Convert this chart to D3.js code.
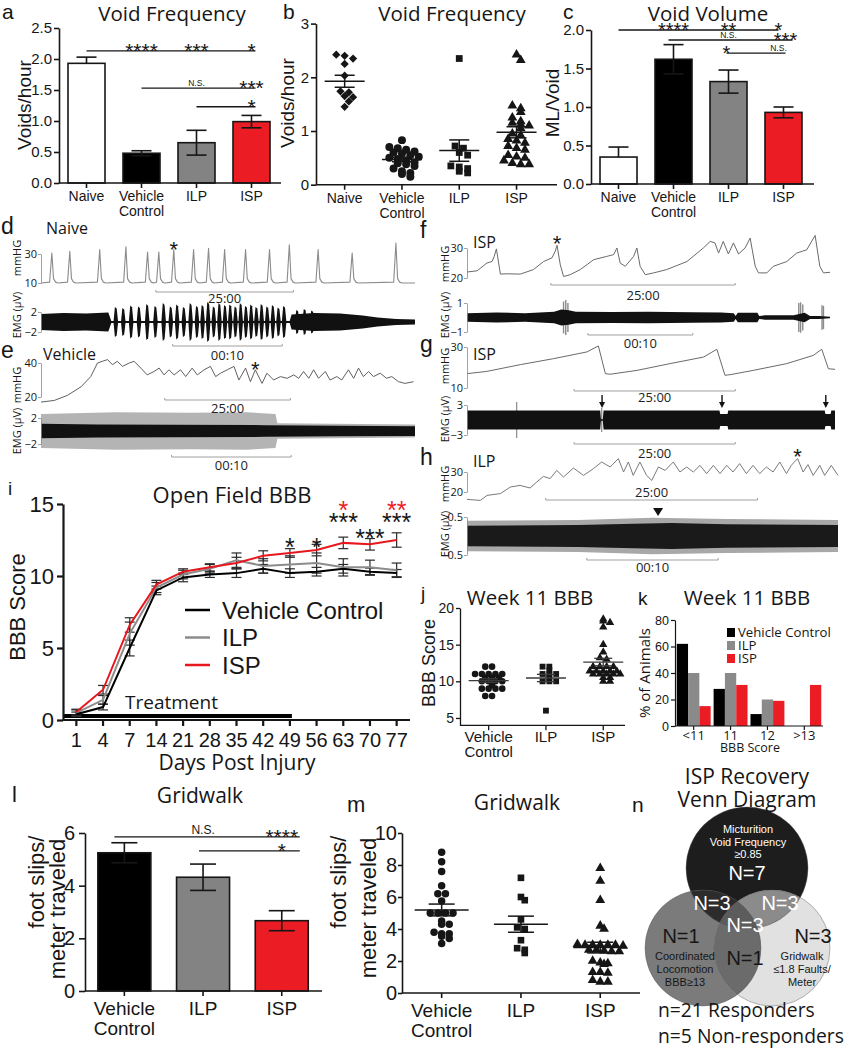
<!DOCTYPE html>
<html><head><meta charset="utf-8">
<script src="https://cdn.jsdelivr.net/npm/d3@7/dist/d3.min.js"></script>
<style>html,body{margin:0;padding:0;background:#fff}svg{display:block}</style>
</head><body>
<svg id="fig" width="847" height="1050" xmlns="http://www.w3.org/2000/svg"></svg>
<script>
// ======================= DATA =======================
// a / c : group means and SEM
const groups4 = ["Naive", "Vehicle Control", "ILP", "ISP"];
const voidFreqMean = [1.93, 0.48, 0.65, 0.99];
const voidFreqSem  = [0.10, 0.04, 0.20, 0.10];
const voidVolMean  = [0.35, 1.62, 1.33, 0.93];
const voidVolSem   = [0.13, 0.19, 0.15, 0.07];
// b : individual animals (voids/hour)
const vfNaive   = [2.42, 2.40, 2.35, 2.25, 2.03, 1.74, 1.72, 1.65, 1.63, 1.55, 1.45];
const vfVehicle = [0.83, 0.70, 0.68, 0.65, 0.62, 0.60, 0.58, 0.55, 0.52, 0.50, 0.48, 0.45, 0.42, 0.40, 0.38, 0.35, 0.30, 0.25, 0.22, 0.20, 0.15];
const vfILP     = [2.35, 0.72, 0.68, 0.60, 0.55, 0.35, 0.33, 0.30, 0.25, 0.22];
const vfISP     = [2.42, 2.32, 1.47, 1.42, 1.35, 1.25, 1.18, 1.15, 1.12, 1.10, 1.05, 0.95, 0.92, 0.85, 0.82, 0.78, 0.72, 0.68, 0.65, 0.55, 0.52, 0.50, 0.45, 0.40, 0.38, 0.38];
// significance annotations (bar panels)
const sigVoidFreq = [
  {from:"Naive", to:"ISP", v:2.13, dx1:4, labels:[["Vehicle Control","****"],["ILP","***"],["ISP","*"]]},
  {from:"Vehicle Control", to:"ISP", v:1.53, dx1:4, labels:[["ILP","N.S."],["ISP","***"]]},
  {from:"ILP", to:"ISP", v:1.23, dx1:4, labels:[["ISP","*"]]}
];
const sigVoidVol = [
  {from:"Naive", to:"ISP", v:2.0, dx1:-5, labels:[["Vehicle Control","****"],["ILP","**"],["ISP","*",-5]]},
  {from:"Vehicle Control", to:"ISP", v:1.87, dx0:-5, dx1:9, labels:[["ILP","N.S."],["ISP","***",2]]},
  {from:"ILP", to:"ISP", v:1.70, dx0:-2, dx1:2, labels:[["ILP","*",-2],["ISP","N.S.",-5]]}
];
// d : naive cystometry (mmHg) - baseline and spikes (time 0-100)
const naiveBase = 10;
const naiveSpikeT    = [2.9, 7.7, 15.7, 22.7, 28.5, 31.5, 35.5, 40.8, 44.8, 49.1, 54.7, 61.1, 66.4, 74.1, 83.2, 94.9];
const naiveSpikePeak = [30.7, 31.8, 33, 35, 31.4, 31.4, 33, 33, 34, 33, 33, 33, 36.4, 33, 30.7, 37.6];
const emgNaiveTonic  = [[0,1.6],[6,1.8],[12,1.7],[18,1.9],[18.8,0.2],[66.5,0.2],[67,1.5],[73,1.8],[80,1.7],[86,1.3],[90,0.9],[95,0.6],[100,0.5]];
const emgNaiveBursts = [[20,3.0],[22,2.8],[24.1,3.3],[26.2,3.1],[28.4,3.6],[30.6,3.2],[32.8,3.8],[34.7,3.1],[36.4,3.5],[38.2,3.0],[40,3.8],[41.7,3.2],[43.2,3.4],[44.7,4.0],[46.2,3.1],[47.7,3.8],[49.2,3.4],[50.6,3.5],[52,3.1],[53.4,3.8],[54.8,3.2],[56.2,3.5],[57.6,3.0],[59,3.6],[60.5,3.1],[62,3.4],[63.5,2.9],[65,3.2],[68.5,2.4],[70.5,2.6],[72.5,2.3]];
// e : vehicle cystometry
const vehiclePressure = [[0,17],[3.6,18],[7.1,21],[10.7,26],[13.3,32],[15.1,40],[16.4,41],[17.8,42],[19.1,39],[20.4,41],[21.8,38],[23.6,40],[24.9,41],[26.7,37],[28.4,33],[30.2,35],[31.6,37],[32.9,33],[34.2,36],[35.6,33],[37.3,36],[38.7,32],[40.4,37],[41.8,33],[43.6,36],[45.3,38],[46.7,32],[48,34],[49.8,36],[51.6,38],[52.9,30],[54.7,37],[56,29],[57.3,36],[59.1,28],[60.4,34],[62.2,30],[64,32],[65.8,31],[67.6,33],[68.9,31],[70.2,35],[71.6,31],[72.9,36],[74.2,31],[76,35],[77.3,30],[79.1,32],[80.4,30],[82.2,36],[83.6,31],[84.9,37],[86.2,32],[87.6,35],[88.9,32],[90.7,34],[92.4,31],[93.8,32],[95.6,29],[97.3,28],[99.6,29]];
const emgVehicleOuter = [[0,2.6],[20,2.9],[40,2.8],[55,2.9],[62.7,2.6],[63.2,1.2],[100,1.0]];
const emgVehicleCore  = [[0,1.1],[15,1.0],[35,0.95],[60,0.9],[80,0.8],[100,0.75]];
// f : ISP cystometry
const ispPressureF = [[0,22],[2.8,22.4],[5.5,25],[6.9,25.5],[7.5,27.2],[8.1,29.7],[9.2,21.3],[11,21.4],[14.7,21.3],[18.3,22.8],[21.1,25.5],[23.4,26.7],[24.3,28.9],[24.8,30.9],[25.7,24.4],[26.6,20.5],[28.4,21.1],[31.2,22.8],[34.9,26.1],[38.5,27.2],[40.4,27.8],[41.3,30],[42.2,25],[43.6,23.9],[45.9,27.2],[46.8,30],[47.7,23.9],[49.1,21.1],[51.4,21.7],[55,22.8],[60.6,25.5],[65.1,30],[67,32.2],[68.3,31.7],[69.3,28.3],[70.6,32.2],[72,28],[73.4,31.7],[74.8,28],[76.6,30],[78,33.3],[79.4,23.9],[80.3,21.7],[82.6,21.7],[84.4,23.9],[88.1,25.5],[90.8,28.3],[93.6,29.4],[95.9,34.2],[97.2,23.9],[98.2,21.7],[100,21.9]];
const emgIspFCore = [[0,0.3],[8,0.35],[16,0.3],[24,0.4],[26,0.55],[28,0.5],[30,0.4],[40,0.38],[50,0.4],[62,0.36],[70,0.34],[73.5,0.3],[74,0.1],[74.6,0.33],[80,0.33],[80.5,0.1],[82,0.15],[88,0.15],[90,0.15],[93,0.33],[94.5,0.1],[97,0.1],[100,0.06]];
const emgIspFSpikes = [[26.6,1.1],[27.2,1.2],[27.8,1.0],[91.4,1.0],[91.9,1.05],[92.5,0.9],[97.8,0.85],[98.2,0.8]];
// g : ISP cystometry (second animal)
const ispPressureG = [[0,17],[5.4,18.1],[14.5,21.4],[23.5,24.3],[32.6,27.6],[35.7,30.5],[37.6,17],[38.9,16.7],[46.2,18.6],[55.2,21.9],[64.3,25.1],[67.9,28.9],[70.1,16.2],[71.5,16.5],[77.8,18.6],[86.9,21.9],[94.1,25.9],[96.4,28.9],[98.2,19.4],[100,19.1]];
const emgIspGCore = [[0,1.9],[36.2,1.9],[36.4,0.15],[36.9,0.15],[37.1,1.9],[68.6,1.9],[68.8,1.2],[70.8,1.2],[71,1.9],[97.2,1.9],[97.4,1.2],[98.8,1.2],[99,1.9],[100,1.9]];
const emgIspGSpikes = [[13.5,3.6],[36.6,2.4]];
const voidArrowsG = [36.7, 69.3, 97.5];
// h : ILP cystometry
const ilpPressureH = [[0,16.3],[3.6,15.8],[5.4,18.3],[9,19.2],[11.7,22.5],[14.3,23.3],[17,22],[18.8,25],[20.6,27.8],[22.4,26.7],[24.2,30.8],[26,27.5],[28.7,32],[31.4,28.3],[34.1,31.7],[36.3,35],[38.6,32.5],[40.8,36.7],[42.2,30],[43.5,35],[44.8,28.3],[46.6,35],[48.4,28.3],[49.8,25.8],[51.6,32.5],[53.4,30.8],[55.6,35],[57.4,30],[59.2,32.5],[61,30],[62.8,33.3],[64.6,29.2],[66.4,33.3],[68.2,29.2],[70,33.3],[71.7,30],[73.5,34.2],[75.3,29.2],[77.1,33.3],[78.9,29.2],[80.7,32.5],[82.5,30],[84.3,35],[86.1,29.2],[87.4,33.3],[89.1,36.7],[90.6,30],[91.9,33.7],[93.3,28.3],[95.1,33.3],[96.4,28.3],[98.2,33.3],[100,28.3]];
const emgIlpOuter = [[0,0.4],[30,0.42],[50,0.48],[70,0.45],[100,0.42]];
const emgIlpCore  = [[0,0.27],[30,0.29],[45,0.32],[55,0.34],[70,0.31],[100,0.29]];
const ilpMarkerT = 51.5;
// i : open field BBB
const days = [1, 4, 7, 14, 21, 28, 35, 42, 49, 56, 63, 70, 77];
const bbbVehicle    = [0.4, 0.9, 5.0, 9.0, 9.9, 10.1, 10.2, 10.5, 10.2, 10.3, 10.5, 10.3, 10.2];
const bbbVehicleSem = [0.15, 0.2, 0.55, 0.3, 0.3, 0.2, 0.3, 0.3, 0.3, 0.3, 0.3, 0.25, 0.25];
const bbbILP        = [0.5, 1.4, 6.0, 9.2, 10.1, 10.5, 11.1, 10.7, 10.8, 10.9, 10.6, 10.6, 10.4];
const bbbILPSem     = [0.2, 0.3, 0.8, 0.35, 0.3, 0.3, 0.5, 0.5, 0.6, 0.7, 0.6, 0.5, 0.5];
const bbbISP        = [0.55, 2.1, 6.6, 9.4, 10.3, 10.6, 10.9, 11.4, 11.6, 11.8, 12.3, 12.2, 12.5];
const bbbISPSem     = [0.2, 0.3, 0.5, 0.3, 0.2, 0.25, 0.4, 0.35, 0.3, 0.4, 0.4, 0.4, 0.5];
const treatmentDays = [1, 49];
const sigBBB = [{day:49,v:12.4,s:"*",red:false},{day:56,v:12.4,s:"*",red:false},{day:63,v:14.1,s:"***",red:false},{day:63,v:15.0,s:"*",red:true},{day:70,v:13.05,s:"***",red:false},{day:77,v:14.1,s:"***",red:false},{day:77,v:15.0,s:"**",red:true}];
// j : week 11 BBB, individual animals
const groups3 = ["Vehicle Control", "ILP", "ISP"];
const w11Vehicle = [12, 12, 11, 11, 11, 11, 11, 10.5, 10.5, 10.5, 10, 10, 10, 10, 9.5, 9, 9, 9, 9, 8, 8];
const w11ILP     = [12, 12, 11.5, 11, 11, 11, 10.5, 10, 10, 10, 6];
const w11ISP     = [18.5, 18.2, 18, 17.4, 15, 14, 13.2, 13, 12, 12, 12, 12, 11.4, 11.4, 11.4, 11.4, 11.4, 11, 11, 11, 11, 11, 10.5, 10.5, 10, 10];
// k : distribution (% of animals)
const kBins = ["<11", "11", "12", ">13"];
const kVehicle = [62, 28, 9, 0];
const kILP     = [40, 40, 20, 0];
const kISP     = [15, 31, 19, 31];
// l / m : gridwalk
const gridMean = [5.25, 4.32, 2.67];
const gridSem  = [0.38, 0.50, 0.38];
const sigGrid = [
  {from:"Vehicle Control", to:"ISP", v:5.85, dx0:-10, dx1:18, labels:[["ILP","N.S."],["ISP","****"]]},
  {from:"ILP", to:"ISP", v:5.32, dx0:-4, dx1:18, labels:[["ISP","*"]]}
];
const gwVehicle = [8.8, 8.2, 7.6, 6.7, 6.2, 6.2, 5.75, 5.0, 5.0, 5.0, 5.0, 4.5, 4.3, 4.3, 3.8, 3.7, 3.7, 3.55, 3.4, 3.1];
const gwILP     = [7.2, 6.0, 5.8, 4.6, 4.1, 4.0, 3.3, 2.8, 2.7, 2.5];
const gwISP     = [7.8, 7.0, 5.8, 4.2, 4.0, 3.0, 3.0, 2.95, 3.05, 3.0, 3.0, 3.0, 2.7, 2.7, 2.65, 2.6, 2.6, 2.0, 1.9, 1.85, 1.8, 1.3, 1.3, 1.25, 0.8, 0.7, 0.7];
// n : Venn counts
const vennCounts = {V:7, B:1, G:3, VB:3, VG:3, BG:1, VBG:3};
const responders = 21, nonResponders = 5;

// ======================= HELPERS =======================
const svg = d3.select("#fig");
svg.append("rect").attr("width", 847).attr("height", 1050).attr("fill", "#fff");
const defs = svg.append("defs");
const AR = "'Liberation Sans', Arial, Helvetica, sans-serif";
const OS = "'Open Sans', 'DejaVu Sans', sans-serif";
const INK = "#161616", RED = "#ec1c24", GRAY = "#838383";
const fills = {"Naive":"#ffffff", "Vehicle Control":"#000000", "ILP":GRAY, "ISP":RED};
const labelLines = {"Vehicle Control":["Vehicle", "Control"]};

function T(g, x, y, s, o = {}) {
  const t = g.append("text").attr("x", x).attr("y", y).text(s)
    .attr("font-family", o.ff || AR).attr("font-size", o.fs || 14)
    .attr("text-anchor", o.a || "start").attr("fill", o.c || INK);
  if (o.rot) t.attr("transform", `rotate(-90,${x},${y})`);
  return t;
}
function L(g, x1, y1, x2, y2, c, w) {
  return g.append("line").attr("x1", x1).attr("y1", y1).attr("x2", x2).attr("y2", y2)
    .attr("stroke", c || INK).attr("stroke-width", w || 1.5);
}
function leftAxis(g, y, ax, ticks, fmt, fs, sw, o = {}) {
  const a = g.append("g").attr("transform", `translate(${ax},0)`)
    .call(d3.axisLeft(y).tickValues(ticks).tickFormat(fmt).tickSize(o.ts || 5).tickSizeOuter(0).tickPadding(o.tp == null ? 3 : o.tp));
  a.select(".domain").attr("stroke", o.col || INK).attr("stroke-width", sw);
  a.selectAll(".tick line").attr("stroke", o.col || INK).attr("stroke-width", sw);
  a.selectAll(".tick text").attr("font-size", fs).attr("font-family", o.ff || AR).attr("fill", INK);
  return a;
}
function catAxis(g, x, cats, y0, x1, x2, fs, dy, lh, sw, tick) {
  L(g, x1, y0, x2, y0, INK, sw);
  cats.forEach(c => {
    L(g, x(c), y0, x(c), y0 + (tick || 5), INK, sw);
    (labelLines[c] || [String(c)]).forEach((s, k) => T(g, x(c), y0 + dy + k * lh, s, {a:"middle", fs}));
  });
}
function barPanel(o) {
  const g = svg.append("g");
  const y = d3.scaleLinear().domain(o.dom).range([o.y0, o.y1]);
  const x = d3.scalePoint().domain(o.cats).range([o.ax, o.ax + o.step * o.cats.length]).padding(0.5);
  g.selectAll("rect").data(o.cats).join("rect")
    .attr("x", d => x(d) - o.bw / 2).attr("width", o.bw)
    .attr("y", (d, i) => y(o.mean[i])).attr("height", (d, i) => y(o.dom[0]) - y(o.mean[i]))
    .attr("fill", d => fills[d]).attr("stroke", INK).attr("stroke-width", o.sw);
  o.cats.forEach((c, i) => {
    const hi = o.mean[i] + o.sem[i];
    const lo = fills[c] === "#ffffff" ? o.mean[i] : o.mean[i] - o.sem[i];
    L(g, x(c), y(lo), x(c), y(hi), INK, o.sw);
    L(g, x(c) - o.cap, y(hi), x(c) + o.cap, y(hi), INK, o.sw);
    if (lo < o.mean[i]) L(g, x(c) - o.cap, y(lo), x(c) + o.cap, y(lo), INK, o.sw);
  });
  leftAxis(g, y, o.ax, o.ticks, o.fmt, o.tfs, o.sw, {ts:o.ts, tp:o.tp});
  catAxis(g, x, o.cats, y(o.dom[0]), o.ax, o.axEnd, o.cfs, o.dy, o.lh, o.sw);
  return {g, x, y};
}
// row-based scatter layout (points keep their true y; rows spread symmetrically)
function swarm(vals, y, sp, binH) {
  const pts = vals.map(v => ({v, py:y(v), dx:0})).sort((a, b) => a.py - b.py);
  const rows = []; let cur = null;
  pts.forEach(p => {
    if (!cur || p.py - cur.start > binH) { cur = {start:p.py, pts:[]}; rows.push(cur); }
    cur.pts.push(p);
  });
  let prev = [];
  rows.forEach(row => {
    const n = row.pts.length;
    row.pts.forEach((p, k) => p.dx = (k - (n - 1) / 2) * sp);
    const clash = row.pts.some(p => prev.some(q => Math.hypot(p.dx - q.dx, p.py - q.py) < sp * 0.8));
    if (clash) row.pts.forEach(p => p.dx += sp / 2);
    prev = row.pts;
  });
  return pts;
}
function scatterPanel(o) {
  const g = svg.append("g");
  const y = d3.scaleLinear().domain(o.dom).range([o.y0, o.y1]);
  const x = d3.scalePoint().domain(o.cats).range([o.ax, o.ax + o.step * o.cats.length]).padding(0.5);
  o.cats.forEach((c, i) => {
    const vs = o.vals[i];
    const pts = swarm(vs, y, o.sp, o.binH);
    const sym = d3.symbol().type(o.syms[i]).size(o.sizes[i]);
    g.append("g").selectAll("path").data(pts).join("path")
      .attr("transform", d => `translate(${x(c) + d.dx},${d.py})` + (o.rot && o.rot[i] ? " rotate(45)" : ""))
      .attr("d", sym()).attr("fill", INK);
    const m = d3.mean(vs), se = d3.deviation(vs) / Math.sqrt(vs.length);
    L(g, x(c) - o.mw, y(m), x(c) + o.mw, y(m), o.meanCol, o.msw);
    L(g, x(c), y(m - se), x(c), y(m + se), o.meanCol, o.msw);
    L(g, x(c) - o.cw, y(m + se), x(c) + o.cw, y(m + se), o.meanCol, o.msw);
    L(g, x(c) - o.cw, y(m - se), x(c) + o.cw, y(m - se), o.meanCol, o.msw);
  });
  leftAxis(g, y, o.ax, o.ticks, o.fmt, o.tfs, o.sw, {ts:o.ts, tp:o.tp});
  catAxis(g, x, o.cats, y(o.dom[0]), o.ax, o.axEnd, o.cfs, o.dy, o.lh, o.sw);
  return {g, x, y};
}
function sigLines(P, list, sfs, nfs) {
  list.forEach(s => {
    const yy = P.y(s.v);
    L(P.g, P.x(s.from) + (s.dx0 || 0), yy, P.x(s.to) + (s.dx1 || 0), yy, INK, 1.3);
    s.labels.forEach(l => {
      const star = l[1].includes("*");
      T(P.g, P.x(l[0]) + (l[2] || 0), star ? yy + 0.33 * sfs : yy - 2.5, l[1], {a:"middle", fs: star ? sfs : nfs});
    });
  });
}
// trace helpers
const lineGen = (x, y) => d3.line().x(d => x(d[0])).y(d => y(d[1]));
const bandGen = (x, y) => d3.area().x(d => x(d[0])).y0(d => y(-d[1])).y1(d => y(d[1]));
function trace(g, pts, x, y, col, w) {
  g.append("path").datum(pts).attr("d", lineGen(x, y)).attr("fill", "none")
    .attr("stroke", col).attr("stroke-width", w).attr("stroke-linejoin", "round");
}
function band(g, env, x, y, col) {
  g.append("path").datum(env).attr("d", bandGen(x, y)).attr("fill", col);
}
function bursts(g, list, x, y, hw, col) {
  list.forEach(b => {
    const env = [[b[0] - hw, 0.15], [b[0] - hw * 0.4, b[1]], [b[0] + hw * 0.4, b[1] * 0.9], [b[0] + hw, 0.15]];
    band(g, env, x, y, col);
  });
}
function spikes(g, list, x, y, col, w) {
  list.forEach(s => L(g, x(s[0]), y(-s[1]), x(s[0]), y(s[1]), col, w));
}
function traceAxis(g, y, ax, ticks, fmt) {
  leftAxis(g, y, ax, ticks, fmt, 11, 0.8, {ts:3, tp:1, col:"#8a8a8a", ff:OS});
}
function scaleBar(g, x, t0, t1, yy, label, ly) {
  L(g, x(t0), yy, x(t1), yy, "#a0a0a0", 1);
  L(g, x(t0), yy - 2, x(t0), yy, "#a0a0a0", 1);
  L(g, x(t1), yy - 2, x(t1), yy, "#a0a0a0", 1);
  T(g, (x(t0) + x(t1)) / 2, ly, label, {a:"middle", fs:13, ff:OS, c:"#222"});
}
function star(g, px, py, fs) { T(g, px, py + 0.58 * fs, "*", {a:"middle", fs}); }

// ======================= PANEL a =======================
const PA = barPanel({cats:groups4, mean:voidFreqMean, sem:voidFreqSem, dom:[0, 2.5], ticks:[0, 0.5, 1, 1.5, 2, 2.5], fmt:d3.format(".1f"),
  ax:59, step:55, axEnd:281, y0:183, y1:28, bw:37, cap:10, tfs:15, cfs:14, dy:18, lh:15, sw:1.6, ts:5, tp:2});
sigLines(PA, sigVoidFreq, 21, 8.5);
T(svg, 2, 19, "a", {fs:21});
T(svg, 172, 21, "Void Frequency", {a:"middle", fs:20.5, ff:OS});
T(svg, 31, 105, "Voids/hour", {a:"middle", fs:19, rot:true});

// ======================= PANEL b =======================
const PB = scatterPanel({cats:groups4, vals:[vfNaive, vfVehicle, vfILP, vfISP],
  syms:[d3.symbolSquare, d3.symbolCircle, d3.symbolSquare, d3.symbolTriangle], sizes:[34, 50, 46, 42], rot:[true, false, false, false],
  dom:[0, 3], ticks:[0, 1, 2, 3], fmt:d3.format("d"), ax:316, step:57.3, axEnd:557, y0:184.7, y1:23.6,
  sp:8.4, binH:4.5, mw:20, cw:10, meanCol:INK, msw:1.5, tfs:15, cfs:14, dy:18, lh:15, sw:1.6, ts:5, tp:2});
T(svg, 283, 19, "b", {fs:21});
T(svg, 452, 21, "Void Frequency", {a:"middle", fs:20.5, ff:OS});
T(svg, 294, 103, "Voids/hour", {a:"middle", fs:19, rot:true});

// ======================= PANEL c =======================
const PC = barPanel({cats:groups4, mean:voidVolMean, sem:voidVolSem, dom:[0, 2], ticks:[0, 0.5, 1, 1.5, 2], fmt:d3.format(".1f"),
  ax:591, step:55, axEnd:814, y0:184, y1:30, bw:37, cap:10, tfs:15, cfs:14, dy:18, lh:15, sw:1.6, ts:5, tp:2});
sigLines(PC, sigVoidVol, 20, 8.5);
T(svg, 563, 19, "c", {fs:21});
T(svg, 708, 21, "Void Volume", {a:"middle", fs:20.5, ff:OS});
T(svg, 559, 103, "ML/Void", {a:"middle", fs:19, rot:true});

// ======================= PANEL d =======================
const gd = svg.append("g");
const xDE = d3.scaleLinear().domain([0, 100]).range([41, 415]);
const yDp = d3.scaleLinear().domain([10, 30]).range([283, 254]);
const yDe = d3.scaleLinear().domain([-2, 2]).range([332, 312]);
const naivePath = [[0, naiveBase]];
naiveSpikeT.forEach((t, i) => {
  naivePath.push([t - 0.6, naiveBase + 0.6], [t, naiveSpikePeak[i]], [t + 0.45, naiveBase + 3], [t + 1, naiveBase + 0.6], [t + 1.6, naiveBase]);
});
naivePath.push([100, naiveBase]);
trace(gd, naivePath, xDE, yDp, "#8c8c8c", 1.1);
traceAxis(gd, yDp, 41, [10, 30], d3.format("d"));
band(gd, emgNaiveTonic, xDE, yDe, "#111");
bursts(gd, emgNaiveBursts, xDE, yDe, 0.6, "#111");
traceAxis(gd, yDe, 41, [-2, 2], d3.format("d"));
star(gd, xDE(naiveSpikeT[6]), yDp(naiveSpikePeak[6]) - 5, 22);
scaleBar(gd, xDE, 30.7, 67.5, 292, "25:00", 303);
scaleBar(gd, xDE, 35.2, 64.5, 346, "00:10", 360);
T(svg, 1, 234, "d", {fs:23});
T(svg, 46, 234, "Naive", {fs:16, ff:OS});
T(svg, 21, 258, "mmHG", {a:"middle", fs:11, ff:OS, rot:true});
T(svg, 21, 315, "EMG (µV)", {a:"middle", fs:11, ff:OS, rot:true});

// ======================= PANEL e =======================
const ge = svg.append("g");
const yEp = d3.scaleLinear().domain([20, 40]).range([397, 363]);
const yEe = d3.scaleLinear().domain([-2, 2]).range([444, 418]);
trace(ge, vehiclePressure, xDE, yEp, "#606060", 1);
traceAxis(ge, yEp, 41, [20, 40], d3.format("d"));
band(ge, emgVehicleOuter, xDE, yEe, "#b4b4b4");
band(ge, emgVehicleCore, xDE, yEe, "#111");
traceAxis(ge, yEe, 41, [-2, 2], d3.format("d"));
star(ge, xDE(57.3), yEp(36) - 6, 22);
scaleBar(ge, xDE, 33.1, 66.7, 400, "25:00", 413);
scaleBar(ge, xDE, 34.9, 66.9, 457, "00:10", 470);
T(svg, 1, 358, "e", {fs:23});
T(svg, 43, 360, "Vehicle", {fs:16, ff:OS});
T(svg, 21, 385, "mmHG", {a:"middle", fs:11, ff:OS, rot:true});
T(svg, 21, 431, "EMG (µV)", {a:"middle", fs:11, ff:OS, rot:true});

// ======================= PANEL f =======================
const gf = svg.append("g");
const xF = d3.scaleLinear().domain([0, 100]).range([467, 830]);
const yFp = d3.scaleLinear().domain([20, 30]).range([278, 248]);
const yFe = d3.scaleLinear().domain([-1, 1]).range([332, 303]);
trace(gf, ispPressureF, xF, yFp, "#6a6a6a", 1);
traceAxis(gf, yFp, 467, [20, 30], d3.format("d"));
spikes(gf, emgIspFSpikes, xF, yFe, "#8a8a8a", 1.4);
band(gf, emgIspFCore, xF, yFe, "#111");
L(gf, xF(0), yFe(0), xF(100), yFe(0), "#111", 1);
traceAxis(gf, yFe, 467, [-1, 1], d3.format("d"));
star(gf, xF(24.8), yFp(30.9) - 7, 22);
scaleBar(gf, xF, 23.1, 73.9, 285, "25:00", 300);
scaleBar(gf, xF, 33.3, 62.2, 335, "00:10", 348);
T(svg, 420, 238, "f", {fs:23});
T(svg, 473, 248, "ISP", {fs:16, ff:OS});
T(svg, 449, 264, "mmHG", {a:"middle", fs:11, ff:OS, rot:true});
T(svg, 449, 315, "EMG (µV)", {a:"middle", fs:11, ff:OS, rot:true});

// ======================= PANEL g =======================
const gg = svg.append("g");
const xG = d3.scaleLinear().domain([0, 100]).range([467, 835]);
const yGp = d3.scaleLinear().domain([10, 30]).range([388, 347]);
const yGe = d3.scaleLinear().domain([-3, 3]).range([435, 405]);
trace(gg, ispPressureG, xG, yGp, "#6a6a6a", 1);
traceAxis(gg, yGp, 467, [10, 30], d3.format("d"));
spikes(gg, emgIspGSpikes, xG, yGe, "#8a8a8a", 1.2);
band(gg, emgIspGCore, xG, yGe, "#111");
traceAxis(gg, yGe, 467, [-3, 3], d3.format("d"));
voidArrowsG.forEach(t => {
  L(gg, xG(t), 395, xG(t), 403, "#111", 1.4);
  gg.append("path").attr("d", `M${xG(t) - 3},402 L${xG(t) + 3},402 L${xG(t)},408 Z`).attr("fill", "#111");
});
scaleBar(gg, xG, 29.1, 72.9, 391, "25:00", 402);
scaleBar(gg, xG, 29.1, 72.9, 444, "25:00", 458);
T(svg, 420, 352, "g", {fs:23});
T(svg, 473, 360, "ISP", {fs:16, ff:OS});
T(svg, 449, 366, "mmHG", {a:"middle", fs:11, ff:OS, rot:true});
T(svg, 449, 419, "EMG (µV)", {a:"middle", fs:11, ff:OS, rot:true});

// ======================= PANEL h =======================
const gh = svg.append("g");
const xH = d3.scaleLinear().domain([0, 100]).range([467, 838]);
const yHp = d3.scaleLinear().domain([20, 30]).range([492, 472]);
const yHe = d3.scaleLinear().domain([-0.5, 0.5]).range([555, 517]);
trace(gh, ilpPressureH, xH, yHp, "#7a7a7a", 1);
traceAxis(gh, yHp, 467, [20, 30], d3.format("d"));
band(gh, emgIlpOuter, xH, yHe, "#a8a8a8");
band(gh, emgIlpCore, xH, yHe, "#1a1a1a");
traceAxis(gh, yHe, 467, [-0.5, 0.5], d3.format(".1f"));
gh.append("path").attr("d", `M${xH(ilpMarkerT) - 5},508 L${xH(ilpMarkerT) + 5},508 L${xH(ilpMarkerT)},516 Z`).attr("fill", "#111");
star(gh, xH(89.1), yHp(36.7) - 7, 22);
scaleBar(gh, xH, 21.2, 78.3, 500, "25:00", 497);
scaleBar(gh, xH, 32.3, 67.7, 560, "00:10", 572);
T(svg, 420, 465, "h", {fs:23});
T(svg, 473, 467, "ILP", {fs:16, ff:OS});
T(svg, 449, 484, "mmHG", {a:"middle", fs:11, ff:OS, rot:true});
T(svg, 449, 534, "EMG (µV)", {a:"middle", fs:11, ff:OS, rot:true});

// ======================= PANEL i =======================
const gi = svg.append("g");
const xi = d3.scalePoint().domain(days).range([63, 410]).padding(0.5);
const yi = d3.scaleLinear().domain([0, 15]).range([720, 504]);
const seriesI = [
  {name:"ILP", m:bbbILP, s:bbbILPSem, c:"#8c8c8c"},
  {name:"Vehicle Control", m:bbbVehicle, s:bbbVehicleSem, c:"#000000"},
  {name:"ISP", m:bbbISP, s:bbbISPSem, c:"#e8161d"}
];
L(gi, 63, yi(0) - 4, xi(treatmentDays[1]) + 2, yi(0) - 4, "#000", 4);
seriesI.forEach(S => {
  days.forEach((d, k) => {
    const hi = S.m[k] + S.s[k], lo = S.m[k] - S.s[k];
    L(gi, xi(d), yi(lo), xi(d), yi(hi), "#2a2a2a", 1.2);
    L(gi, xi(d) - 5, yi(hi), xi(d) + 5, yi(hi), "#2a2a2a", 1.2);
    L(gi, xi(d) - 5, yi(lo), xi(d) + 5, yi(lo), "#2a2a2a", 1.2);
  });
});
seriesI.forEach(S => {
  gi.append("path").datum(S.m).attr("fill", "none").attr("stroke", S.c).attr("stroke-width", 2)
    .attr("d", d3.line().x((v, k) => xi(days[k])).y(v => yi(v)));
});
leftAxis(gi, yi, 63, [0, 5, 10, 15], d3.format("d"), 22, 2.2, {ts:6, tp:3});
catAxis(gi, xi, days, 720, 63, 410, 20, 27, 0, 2.2, 6);
sigBBB.forEach(s => T(gi, xi(s.day), yi(s.v) + 0.58 * 25, s.s, {a:"middle", fs:25, c: s.red ? RED : INK}));
[["Vehicle Control", "#000"], ["ILP", "#8c8c8c"], ["ISP", "#e8161d"]].forEach((l, k) => {
  const yy = 610 + k * 27.5;
  L(gi, 185, yy, 210, yy, l[1], 2.5);
  T(gi, 222, yy + 8.5, l[0], {fs:24});
});
T(gi, 125, 709, "Treatment", {fs:19, ff:OS});
T(svg, 8, 495, "i", {fs:19});
T(svg, 232, 503, "Open Field BBB", {a:"middle", fs:22, ff:OS});
T(svg, 237, 770, "Days Post Injury", {a:"middle", fs:21, ff:OS});
T(svg, 25, 607, "BBB Score", {a:"middle", fs:22, rot:true});

// ======================= PANEL j =======================
const PJ = scatterPanel({cats:groups3, vals:[w11Vehicle, w11ILP, w11ISP],
  syms:[d3.symbolCircle, d3.symbolSquare, d3.symbolTriangle], sizes:[34, 34, 30], rot:[false, false, false],
  dom:[4, 20], ticks:[5, 10, 15, 20], fmt:d3.format("d"), ax:460, step:57.3, axEnd:625, y0:725.3, y1:608,
  sp:6.8, binH:2, mw:20, cw:9, meanCol:"#3a3a3a", msw:1.3, tfs:14, cfs:15, dy:17, lh:15, sw:1.3, ts:4, tp:2});
T(svg, 421, 600, "j", {fs:19});
T(svg, 530, 605, "Week 11 BBB", {a:"middle", fs:20.5, ff:OS});
T(svg, 435, 663, "BBB Score", {a:"middle", fs:18, rot:true});

// ======================= PANEL k =======================
const gk = svg.append("g");
const kSeries = [{name:"Vehicle Control", v:kVehicle, c:"#000"}, {name:"ILP", v:kILP, c:"#8a8a8a"}, {name:"ISP", v:kISP, c:RED}];
const xk0 = d3.scaleBand().domain(kBins).range([676, 822]).paddingInner(0.08).paddingOuter(0.02);
const xk1 = d3.scaleBand().domain(kSeries.map(s => s.name)).range([0, xk0.bandwidth()]);
const yk = d3.scaleLinear().domain([0, 80]).range([726, 620]);
kSeries.forEach(S => {
  gk.selectAll(null).data(kBins).join("rect")
    .attr("x", (b) => xk0(b) + xk1(S.name)).attr("width", xk1.bandwidth())
    .attr("y", (b, i) => yk(S.v[i])).attr("height", (b, i) => yk(0) - yk(S.v[i])).attr("fill", S.c);
});
leftAxis(gk, yk, 675, [0, 20, 40, 60, 80], d3.format("d"), 12.5, 1.2, {ts:4, tp:2});
L(gk, 675, 726, 823, 726, INK, 1.2);
kBins.forEach(b => {
  const cx = xk0(b) + xk0.bandwidth() / 2;
  L(gk, cx, 726, cx, 730, INK, 1.2);
  T(gk, cx, 740, b, {a:"middle", fs:13, ff:OS});
});
kSeries.forEach((S, k) => {
  gk.append("rect").attr("x", 727).attr("y", 628 + k * 13).attr("width", 8).attr("height", 9).attr("fill", S.c);
  T(gk, 738, 637 + k * 13, S.name, {fs:13.2, ff:OS});
});
T(svg, 638, 605, "k", {fs:19});
T(svg, 747, 605, "Week 11 BBB", {a:"middle", fs:20.5, ff:OS});
T(svg, 750, 752, "BBB Score", {a:"middle", fs:12.5, ff:OS});
T(svg, 650, 673, "% of Animals", {a:"middle", fs:15, ff:OS, rot:true});

// ======================= PANEL l =======================
const PL = barPanel({cats:groups3, mean:gridMean, sem:gridSem, dom:[0, 6], ticks:[0, 2, 4, 6], fmt:d3.format("d"),
  ax:85, step:78.7, axEnd:322, y0:991, y1:833, bw:53, cap:13, tfs:20, cfs:19, dy:24, lh:20, sw:1.6, ts:6, tp:4});
sigLines(PL, sigGrid, 21, 12);
T(svg, 12, 802, "l", {fs:22});
T(svg, 200, 803, "Gridwalk", {a:"middle", fs:21, ff:OS});
T(svg, 44, 882, "foot slips/", {a:"middle", fs:22, rot:true});
T(svg, 65, 909, "meter traveled", {a:"middle", fs:22, rot:true});

// ======================= PANEL m =======================
const PM = scatterPanel({cats:groups3, vals:[gwVehicle, gwILP, gwISP],
  syms:[d3.symbolCircle, d3.symbolSquare, d3.symbolTriangle], sizes:[44, 44, 42], rot:[false, false, false],
  dom:[0, 10], ticks:[0, 2, 4, 6, 8, 10], fmt:d3.format("d"), ax:402, step:79.3, axEnd:640, y0:993, y1:833,
  sp:7.6, binH:3, mw:27, cw:13, meanCol:INK, msw:1.5, tfs:20, cfs:19, dy:24, lh:20, sw:1.6, ts:4, tp:1});
T(svg, 347, 812, "m", {fs:22});
T(svg, 517, 810, "Gridwalk", {a:"middle", fs:21, ff:OS});
T(svg, 346, 882, "foot slips/", {a:"middle", fs:22, rot:true});
T(svg, 376, 908, "meter traveled", {a:"middle", fs:22, rot:true});

// ======================= PANEL n (Venn) =======================
const gn = svg.append("g");
const circ = {V:{cx:747, cy:868, r:61}, B:{cx:703, cy:948, r:58}, G:{cx:772, cy:948, r:58}};
Object.entries(circ).forEach(([k, c]) => defs.append("clipPath").attr("id", "clip" + k)
  .append("circle").attr("cx", c.cx).attr("cy", c.cy).attr("r", c.r));
function disc(g, c, fill) { return g.append("circle").attr("cx", c.cx).attr("cy", c.cy).attr("r", c.r).attr("fill", fill); }
disc(gn, circ.V, "#1d1d1d");
disc(gn, circ.B, "#7b7b7b");
disc(gn, circ.G, "#e1e1e1");
disc(gn.append("g").attr("clip-path", "url(#clipV)"), circ.B, "#2c2c2c");
disc(gn.append("g").attr("clip-path", "url(#clipV)"), circ.G, "#8b8b8b");
disc(gn.append("g").attr("clip-path", "url(#clipB)"), circ.G, "#6b6b6b");
disc(gn.append("g").attr("clip-path", "url(#clipV)").append("g").attr("clip-path", "url(#clipB)"), circ.G, "#5c5c5c");
Object.values(circ).forEach(c => gn.append("circle").attr("cx", c.cx).attr("cy", c.cy).attr("r", c.r)
  .attr("fill", "none").attr("stroke", "#555").attr("stroke-width", 0.7).attr("stroke-opacity", 0.6));
const W = "#ffffff";
T(gn, 748, 833, "Micturition", {a:"middle", fs:11, c:W});
T(gn, 748, 846, "Void Frequency", {a:"middle", fs:11, c:W});
T(gn, 748, 858, "≥0.85", {a:"middle", fs:11, c:W});
T(gn, 747, 880, "N=" + vennCounts.V, {a:"middle", fs:20, c:W});
T(gn, 712, 910, "N=" + vennCounts.VB, {a:"middle", fs:20, c:W});
T(gn, 780, 910, "N=" + vennCounts.VG, {a:"middle", fs:20, c:W});
T(gn, 745, 932, "N=" + vennCounts.VBG, {a:"middle", fs:20, c:W});
T(gn, 681, 943, "N=" + vennCounts.B, {a:"middle", fs:20});
T(gn, 813, 943, "N=" + vennCounts.G, {a:"middle", fs:20});
T(gn, 745, 965, "N=" + vennCounts.BG, {a:"middle", fs:20});
T(gn, 685, 960, "Coordinated", {a:"middle", fs:11});
T(gn, 685, 973, "Locomotion", {a:"middle", fs:11});
T(gn, 685, 986, "BBB≥13", {a:"middle", fs:11});
T(gn, 802, 960, "Gridwalk", {a:"middle", fs:11});
T(gn, 802, 973, "≤1.8 Faults/", {a:"middle", fs:11});
T(gn, 802, 986, "Meter", {a:"middle", fs:11});
T(svg, 632, 812, "n", {fs:21});
T(svg, 747, 784, "ISP Recovery", {a:"middle", fs:21, ff:OS});
T(svg, 747, 807, "Venn Diagram", {a:"middle", fs:21, ff:OS});
T(svg, 658, 1017, `n=${responders} Responders`, {fs:19.3, ff:OS});
T(svg, 658, 1043, `n=${nonResponders} Non-responders`, {fs:19.3, ff:OS});
</script>
</body></html>
